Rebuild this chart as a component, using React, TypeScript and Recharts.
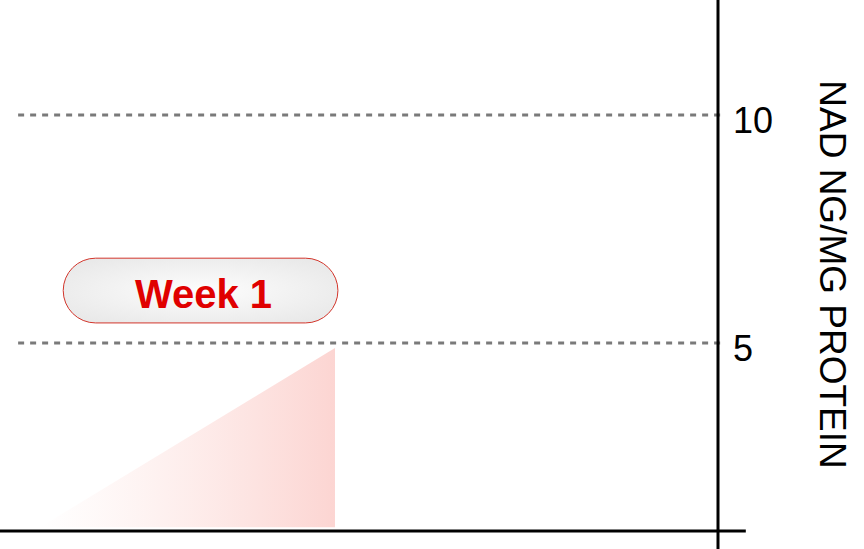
import {
  ComposedChart, Area, XAxis, YAxis, ReferenceLine, ReferenceArea,
} from "recharts";

// day of the week-1 window, NAD level (ng/mg protein)
const days = [0, 7];
const nadValues = [0.96, 4.89];
const yTicks = [5, 10];
const phaseLabel = "Week 1";
const axisTitle = "NAD NG/MG PROTEIN";

const data = days.map((d, i) => ({ day: d, nad: nadValues[i] }));

const FONT = "'Liberation Sans', Arial, Helvetica, sans-serif";

// eslint-disable-next-line @typescript-eslint/no-explicit-any
function RightTick({ x, y, payload }: any) {
  return (
    <text x={x} y={y + 18} fontSize={36} fontFamily={FONT} fill="#000" textAnchor="start">
      {payload.value}
    </text>
  );
}

// eslint-disable-next-line @typescript-eslint/no-explicit-any
function AxisTitle({ viewBox }: any) {
  const cx = viewBox.x + 114;
  const cy = viewBox.y + viewBox.height / 2;
  return (
    <text
      x={cx}
      y={cy}
      transform={`rotate(90 ${cx} ${cy})`}
      textAnchor="middle"
      dominantBaseline="central"
      fontSize={37}
      fontFamily={FONT}
      fill="#000"
    >
      {axisTitle}
    </text>
  );
}

// eslint-disable-next-line @typescript-eslint/no-explicit-any
function Pill({ x, y, width, height }: any) {
  return (
    <g>
      <rect
        x={x}
        y={y}
        width={width}
        height={height}
        rx={height / 2}
        ry={height / 2}
        fill="url(#pillFill)"
        stroke="#d2352b"
        strokeWidth={1}
      />
      <text
        x={x + width / 2 + 3}
        y={y + height / 2 + 3}
        textAnchor="middle"
        dominantBaseline="central"
        fontSize={40}
        fontWeight="bold"
        fontFamily={FONT}
        fill="#e00000"
      >
        {phaseLabel}
      </text>
    </g>
  );
}

export default function App() {
  return (
    <div style={{ position: "absolute", left: 0, top: 0, background: "#fff" }}>
      <ComposedChart
        width={864}
        height={549}
        data={data}
        margin={{ top: 0, right: 0, bottom: 0, left: 0 }}
      >
        <defs>
          <linearGradient id="areaFill" x1="0" y1="0" x2="1" y2="0">
            <stop offset="0%" stopColor="#fde2df" stopOpacity={0} />
            <stop offset="100%" stopColor="#fcd5d2" stopOpacity={1} />
          </linearGradient>
          <radialGradient id="pillFill" cx="50%" cy="50%" r="60%">
            <stop offset="0%" stopColor="#fdfdfd" />
            <stop offset="100%" stopColor="#e9e9e9" />
          </radialGradient>
        </defs>
        <XAxis
          dataKey="day"
          type="number"
          domain={[-0.95, 16.09]}
          allowDataOverflow
          hide
        />
        <YAxis
          orientation="right"
          type="number"
          domain={[0.482, 12.522]}
          allowDataOverflow
          ticks={yTicks}
          width={146}
          axisLine={{ stroke: "#000", strokeWidth: 3 }}
          tickLine={false}
          tickSize={0}
          tickMargin={15}
          tick={<RightTick />}
          label={<AxisTitle />}
        />
        {yTicks.map((t) => (
          <ReferenceLine
            key={t}
            segment={[{ x: -0.52, y: t }, { x: 16.21, y: t }]}
            stroke="#7a7a7a"
            strokeWidth={3}
            strokeDasharray="6 6"
            ifOverflow="visible"
          />
        ))}
        <Area
          type="linear"
          dataKey="nad"
          baseValue={nadValues[0]}
          stroke="none"
          fill="url(#areaFill)"
          fillOpacity={1}
          isAnimationActive={false}
          dot={false}
          activeDot={false}
        />
        <ReferenceLine
          segment={[{ x: -0.95, y: 0.877 }, { x: 16.75, y: 0.877 }]}
          stroke="#000"
          strokeWidth={3}
          ifOverflow="visible"
        />
        <ReferenceArea
          x1={0.55}
          x2={7.07}
          y1={5.44}
          y2={6.86}
          ifOverflow="visible"
          shape={<Pill />}
        />
      </ComposedChart>
    </div>
  );
}
